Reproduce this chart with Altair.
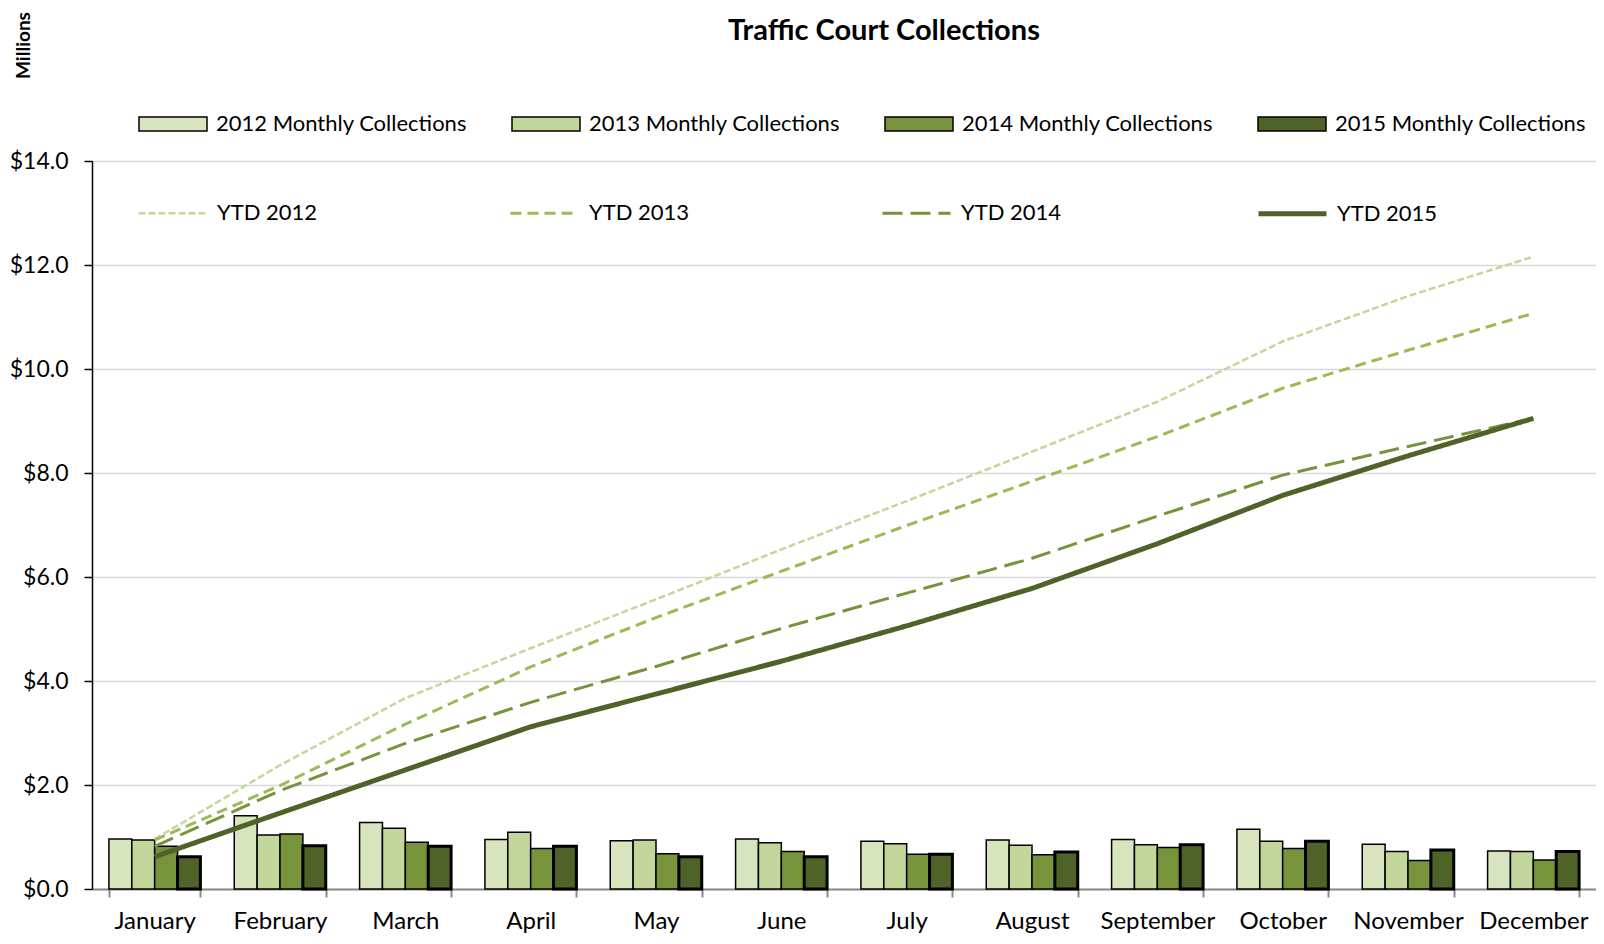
import altair as alt
import pandas as pd

months = ["January", "February", "March", "April", "May", "June", "July",
          "August", "September", "October", "November", "December"]

bar_series = ["2012 Monthly Collections", "2013 Monthly Collections",
              "2014 Monthly Collections", "2015 Monthly Collections"]
bar_colors = ["#D7E4BD", "#C3D69B", "#77933C", "#4F6228"]

m2012 = [0.96, 1.41, 1.28, 0.95, 0.93, 0.96, 0.92, 0.94, 0.95, 1.15, 0.86, 0.73]
m2013 = [0.94, 1.04, 1.17, 1.09, 0.94, 0.89, 0.87, 0.84, 0.85, 0.92, 0.72, 0.72]
m2014 = [0.82, 1.06, 0.90, 0.78, 0.68, 0.72, 0.67, 0.66, 0.80, 0.78, 0.55, 0.56]
m2015 = [0.62, 0.83, 0.82, 0.82, 0.62, 0.62, 0.67, 0.71, 0.85, 0.92, 0.75, 0.72]

ytd_series = ["YTD 2012", "YTD 2013", "YTD 2014", "YTD 2015"]
ytd_colors = ["#C3D69B", "#9BBB59", "#77933C", "#4F6228"]
ytd_dashes = [[7, 3], [11, 6], [20, 8], [1, 0]]
ytd_widths = [2.5, 3, 3, 5]

y2012 = [0.96, 2.38, 3.67, 4.63, 5.57, 6.53, 7.46, 8.41, 9.37, 10.53, 11.40, 12.16]
y2013 = [0.94, 1.99, 3.17, 4.27, 5.22, 6.11, 6.99, 7.84, 8.70, 9.63, 10.36, 11.07]
y2014 = [0.82, 1.89, 2.80, 3.59, 4.28, 5.01, 5.69, 6.36, 7.17, 7.96, 8.51, 9.05]
y2015 = [0.62, 1.46, 2.29, 3.12, 3.75, 4.38, 5.06, 5.78, 6.64, 7.57, 8.33, 9.05]

y_ticks = [0, 2, 4, 6, 8, 10, 12, 14]

bar_rows = []
for s, vals in zip(bar_series, [m2012, m2013, m2014, m2015]):
    for m, v in zip(months, vals):
        bar_rows.append({"month": m, "series": s, "value": v})
bars_df = pd.DataFrame(bar_rows)

line_rows = []
for s, vals in zip(ytd_series, [y2012, y2013, y2014, y2015]):
    for m, v in zip(months, vals):
        line_rows.append({"month": m, "series": s, "value": v})
lines_df = pd.DataFrame(line_rows)

FONT = "Lato"

x_axis = alt.Axis(title=None, tickBand="extent", labelAngle=0, labelFont=FONT,
                  labelFontSize=24, labelColor="black", labelPadding=12,
                  domainColor="#898989", domainWidth=2, tickColor="#898989",
                  tickWidth=2, tickSize=8, grid=False)
y_axis = alt.Axis(values=y_ticks, format="$.1f", title="Millions",
                  titleFont=FONT, titleFontSize=19, titleFontWeight="bold",
                  titleColor="black", titleAngle=270, titleX=-69, titleY=-116,
                  titleAlign="center", titleBaseline="middle",
                  labelFont=FONT, labelFontSize=23, labelColor="black",
                  labelPadding=16, domainColor="black", domainWidth=1.5,
                  tickColor="black", tickWidth=1.5, tickSize=8,
                  grid=True, gridColor="#D9D9D9", gridWidth=1.5)

bar_legend = alt.Legend(title=None, orient="none", legendX=46, legendY=-72,
                        direction="horizontal", columns=4, columnPadding=42,
                        symbolType="M-1,-0.206L1,-0.206L1,0.206L-1,0.206Z",
                        symbolSize=4624, symbolStrokeColor="black",
                        symbolStrokeWidth=1.5, labelFont=FONT, labelFontSize=22,
                        labelColor="black", labelOffset=8, labelLimit=400)

line_legend = alt.Legend(title=None, orient="none", legendX=44, legendY=16,
                         direction="horizontal", columns=4, columnPadding=186,
                         symbolType="stroke", symbolSize=4624,
                         labelFont=FONT, labelFontSize=22, labelColor="black",
                         labelOffset=8, labelLimit=400)

x_enc = alt.X("month:N", sort=months,
              scale=alt.Scale(paddingInner=0.27, paddingOuter=0.135),
              axis=x_axis)
y_enc = alt.Y("value:Q", scale=alt.Scale(domain=[0, 14], nice=False), axis=y_axis)

bars = alt.Chart(bars_df).mark_bar(stroke="black").encode(
    x=x_enc,
    xOffset=alt.XOffset("series:N", sort=bar_series,
                        scale=alt.Scale(domain=bar_series, paddingInner=0, paddingOuter=0)),
    y=y_enc,
    fill=alt.Fill("series:N", sort=bar_series,
                  scale=alt.Scale(domain=bar_series, range=bar_colors),
                  legend=bar_legend),
    strokeWidth=alt.condition(alt.datum.series == bar_series[3],
                              alt.value(3), alt.value(1.5)),
)

lines = alt.Chart(lines_df).mark_line(strokeCap="butt").encode(
    x=alt.X("month:N", sort=months),
    y=alt.Y("value:Q"),
    stroke=alt.Stroke("series:N", sort=ytd_series,
                      scale=alt.Scale(domain=ytd_series, range=ytd_colors),
                      legend=line_legend),
    strokeDash=alt.StrokeDash("series:N", sort=ytd_series,
                              scale=alt.Scale(domain=ytd_series, range=ytd_dashes),
                              legend=line_legend),
    strokeWidth=alt.StrokeWidth("series:N", sort=ytd_series,
                                scale=alt.Scale(type="ordinal", domain=ytd_series,
                                                range=ytd_widths),
                                legend=line_legend),
)

chart = alt.layer(bars, lines).properties(
    width=1504,
    height=728,
    autosize=alt.AutoSizeParams(type="none"),
    padding={"left": 84, "top": 153, "right": 0, "bottom": 47},
    title=alt.TitleParams("Traffic Court Collections", font=FONT, fontSize=29,
                          fontWeight="bold", color="black", frame="group",
                          anchor="middle", dx=40, offset=0, dy=57,
                          baseline="alphabetic"),
).configure_view(stroke=None).configure(font=FONT)

chart.save("out.html", embed_options={"renderer": "svg", "actions": False})
